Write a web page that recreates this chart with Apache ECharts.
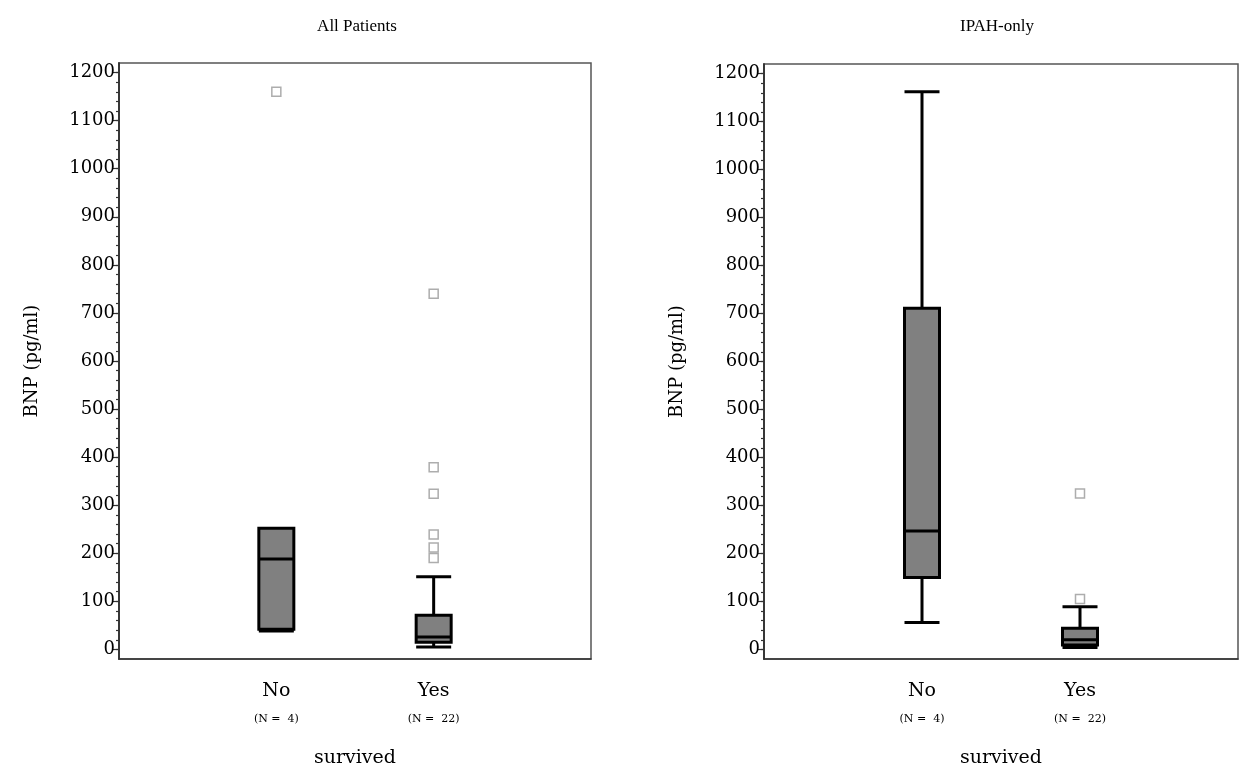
<!DOCTYPE html>
<html lang="en">
<head>
    <meta charset="UTF-8">
    <title>BNP by survival</title>
    <script src="https://cdn.jsdelivr.net/npm/echarts@6/dist/echarts.min.js"></script>
</head>
<body style="margin:0;background:#fff;">
<div id="chart" style="width: 1240px;height:773px;"></div>
<script>
    // groups on the x axis
    var groups = ['No', 'Yes'];
    var groupN = [4, 22];
    var panelTitles = ['All Patients', 'IPAH-only'];

    // box stats: [min, Q1, median, Q3, max]
    var allBoxes = [
        [38, 42, 188, 252, 252],
        [5, 15, 26, 71, 151]
    ];
    var ipahBoxes = [
        [56, 150, 247, 711, 1162],
        [4, 9, 20, 44, 89]
    ];

    // outliers: [group index, value]
    var allOutliers = [[0, 1160], [1, 740], [1, 379], [1, 324], [1, 239], [1, 212], [1, 190]];
    var ipahOutliers = [[1, 325], [1, 105]];

    var yTicks = [0, 100, 200, 300, 400, 500, 600, 700, 800, 900, 1000, 1100, 1200];
    var yMinor = [];
    for (var v = 0; v <= 1200; v += 20) { yMinor.push(v); }

    var chartDom = document.getElementById('chart');
    var myChart = echarts.init(chartDom);

    var grids = [
        {left: 119, top: 63, width: 472, height: 596},
        {left: 764, top: 64, width: 474, height: 597}
    ];

    var font = 'DejaVu Serif';

    function makeX(i) {
        return {
            type: 'value',
            gridIndex: i,
            min: 0,
            max: 3,
            name: 'survived',
            nameLocation: 'middle',
            nameGap: 90,
            nameTextStyle: {fontFamily: font, fontSize: 19, color: '#000'},
            axisLine: {show: true, onZero: false, lineStyle: {color: '#333', width: 1.5}},
            axisTick: {show: false},
            splitLine: {show: false},
            axisLabel: {
                customValues: [1, 2],
                margin: 18,
                formatter: function (val) {
                    var k = Math.round(val) - 1;
                    return '{a|' + groups[k] + '}\n{b|(N =  ' + groupN[k] + ')}';
                },
                rich: {
                    a: {fontFamily: font, fontSize: 19, color: '#000', lineHeight: 28},
                    b: {fontFamily: font, fontSize: 11, color: '#000', lineHeight: 28}
                }
            }
        };
    }

    function makeY(i, major) {
        return {
            type: 'value',
            gridIndex: i,
            position: 'left',
            min: -20,
            max: 1220,
            name: major ? 'BNP (pg/ml)' : '',
            nameLocation: 'middle',
            nameGap: 78,
            nameTextStyle: {fontFamily: font, fontSize: 18, color: '#000'},
            axisLine: {show: true, onZero: false, lineStyle: {color: '#333', width: 1.5}},
            splitLine: {show: false},
            axisTick: {
                show: true,
                customValues: major ? yTicks : yMinor,
                length: major ? 6 : 3,
                lineStyle: {color: '#333', width: 1.2}
            },
            axisLabel: {
                show: major,
                customValues: yTicks,
                margin: 4,
                fontFamily: font,
                fontSize: 18,
                color: '#000',
                formatter: function (val) { return String(val); }
            }
        };
    }

    function toBoxData(boxes) {
        return boxes.map(function (b, k) { return [k + 1].concat(b); });
    }
    function toOutData(outs) {
        return outs.map(function (o) { return [o[0] + 1, o[1]]; });
    }

    var option = {
        animation: false,
        title: [
            {text: panelTitles[0], left: 352, top: 13, textAlign: 'center',
                textStyle: {fontFamily: 'Liberation Serif', fontSize: 17, fontWeight: 'normal', color: '#000'}},
            {text: panelTitles[1], left: 992, top: 13, textAlign: 'center',
                textStyle: {fontFamily: 'Liberation Serif', fontSize: 17, fontWeight: 'normal', color: '#000'}}
        ],
        grid: grids.map(function (g) {
            return Object.assign({show: true, borderColor: '#555', borderWidth: 1.5, backgroundColor: '#fff'}, g);
        }),
        xAxis: [makeX(0), makeX(1)],
        yAxis: [makeY(0, true), makeY(0, false), makeY(1, true), makeY(1, false)],
        series: [
            {
                type: 'boxplot', xAxisIndex: 0, yAxisIndex: 0, layout: 'horizontal',
                boxWidth: [35, 35],
                itemStyle: {color: '#808080', borderColor: '#000', borderWidth: 3},
                data: toBoxData(allBoxes)
            },
            {
                type: 'scatter', xAxisIndex: 0, yAxisIndex: 0,
                symbol: 'rect', symbolSize: 9,
                itemStyle: {color: '#fff', borderColor: '#999', borderWidth: 1.5},
                data: toOutData(allOutliers)
            },
            {
                type: 'boxplot', xAxisIndex: 1, yAxisIndex: 2, layout: 'horizontal',
                boxWidth: [35, 35],
                itemStyle: {color: '#808080', borderColor: '#000', borderWidth: 3},
                data: toBoxData(ipahBoxes)
            },
            {
                type: 'scatter', xAxisIndex: 1, yAxisIndex: 2,
                symbol: 'rect', symbolSize: 9,
                itemStyle: {color: '#fff', borderColor: '#999', borderWidth: 1.5},
                data: toOutData(ipahOutliers)
            }
        ]
    };

    myChart.setOption(option);
</script>
</body>
</html>
